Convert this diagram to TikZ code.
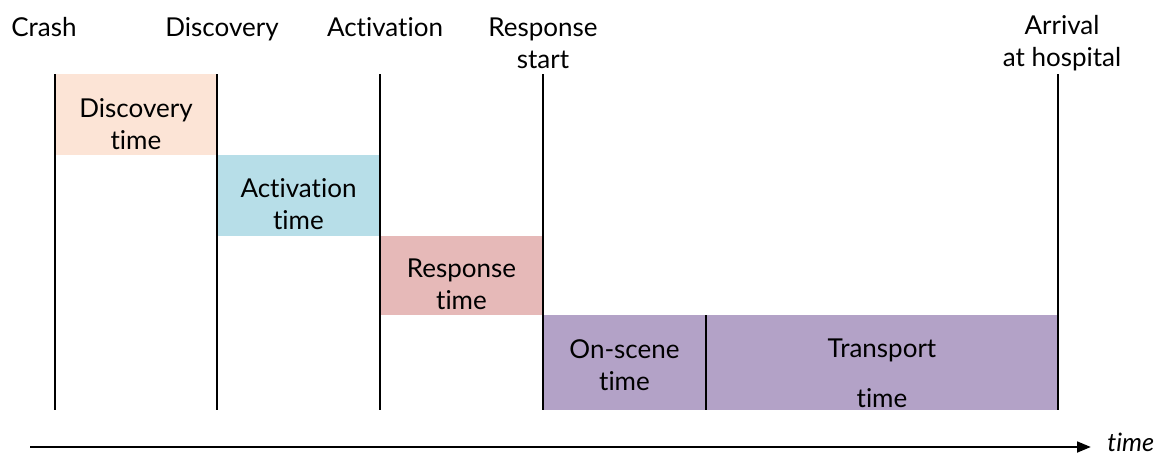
\documentclass[tikz,border=0pt]{standalone}
\usepackage{fontspec}
\setmainfont{Lato}[Ligatures={NoCommon}]
\usetikzlibrary{arrows.meta}
\definecolor{cdisc}{HTML}{FCE4D6}
\definecolor{cact}{HTML}{B7DEE8}
\definecolor{cresp}{HTML}{E6B9B8}
\definecolor{cpurp}{HTML}{B3A2C7}
\begin{document}
\begin{tikzpicture}[x=0.75pt,y=-0.75pt,
  lbl/.style={font=\fontsize{19.5}{24}\selectfont, align=center, inner sep=0pt},
  vline/.style={line width=1.8pt, black},
  axis/.style={line width=2pt, black, -{Triangle[length=10.5pt,width=8pt]}}]
\useasboundingbox (0,0) rectangle (1161,454);
% boxes
\fill[cdisc] (55,74) rectangle (217,155);
\fill[cact] (217,155) rectangle (380,236);
\fill[cresp] (380,236) rectangle (543,315);
\fill[cpurp] (543,315) rectangle (1058,410);
% vertical lines
\coordinate (c1t) at (55,74);   \coordinate (c1b) at (55,410);
\coordinate (c2t) at (217,74);  \coordinate (c2b) at (217,410);
\coordinate (c3t) at (380,74);  \coordinate (c3b) at (380,410);
\coordinate (c4t) at (543,74);  \coordinate (c4b) at (543,410);
\coordinate (c5t) at (706,315); \coordinate (c5b) at (706,410);
\coordinate (c6t) at (1058,74); \coordinate (c6b) at (1058,410);
\draw[vline] (c1t) -- (c1b);
\draw[vline] (c2t) -- (c2b);
\draw[vline] (c3t) -- (c3b);
\draw[vline] (c4t) -- (c4b);
\draw[vline] (c5t) -- (c5b);
\draw[vline] (c6t) -- (c6b);
% top labels
\node[lbl, anchor=base] (lcrash) at (44,36) {Crash};
\node[lbl, anchor=base] (ldisc) at (222,36) {Discovery};
\node[lbl, anchor=base] (lact) at (385,36) {Activation};
\node[lbl] (lresp) at (543,43) {Response\\start};
\node[lbl] (larr) at (1062,43) {Arrival\\at hospital};
% box texts
\node[lbl] (tdisc) at (136,124) {Discovery\\time};
\node[lbl] (tact) at (298.5,204) {Activation\\time};
\node[lbl] (tresp) at (461.5,284) {Response\\time};
\node[lbl] (tons) at (624.5,365) {On-scene\\time};
\node[lbl] (ttr) at (882,350) {Transport};
\node[lbl] (ttr2) at (882,398) {time};
% time axis
\coordinate (ax0) at (30,447);
\coordinate (ax1) at (1091,447);
\draw[axis] (ax0) -- (ax1);
\node[lbl, anchor=base west, font=\fontsize{19}{22}\selectfont\itshape] (ltime) at (1107,451) {time};
\end{tikzpicture}
\end{document}
